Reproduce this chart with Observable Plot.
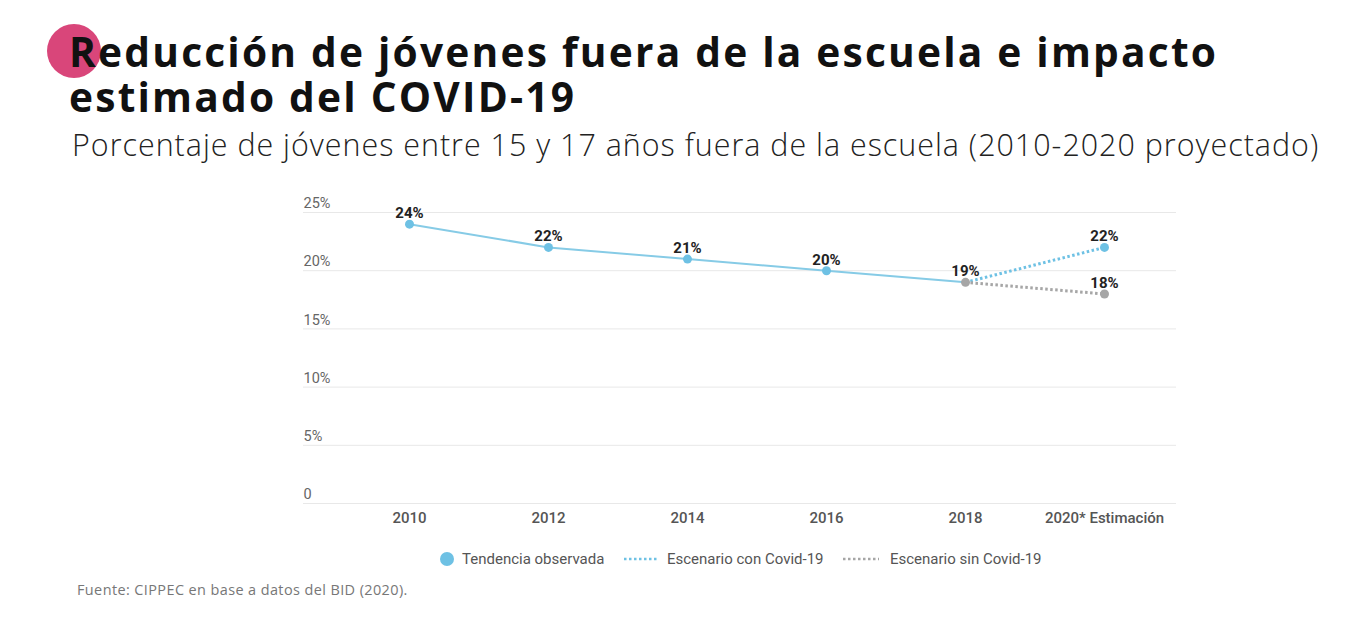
<!DOCTYPE html>
<html><head><meta charset="utf-8">
<script src="https://cdn.jsdelivr.net/npm/d3@7"></script>
<script src="https://cdn.jsdelivr.net/npm/@observablehq/plot@0.6"></script>
<style>
body{margin:0;background:#fff;width:1362px;height:638px;position:relative;overflow:hidden;font-family:Roboto,sans-serif}
#dot{position:absolute;left:47px;top:24px;width:54px;height:54px;border-radius:50%;background:#d9467a}
.fit{position:absolute;white-space:nowrap;margin:0;display:inline-block;line-height:1}
#title{position:absolute;left:69px;margin:0;font-family:"Open Sans",sans-serif;font-weight:700;color:#111;line-height:45px;white-space:nowrap}
#sub{left:72px;font-family:"Open Sans",sans-serif;font-weight:300;font-size:26px;color:#222}
#chart{position:absolute;left:0;top:190px}
#legend{position:absolute;top:550px;left:0;width:1362px;font-size:15px;color:#555;font-family:Roboto,sans-serif}
.it{position:absolute;display:flex;align-items:center;height:18px}
#cap{left:77px;font-family:"Open Sans",sans-serif;font-size:12px;color:#777}
</style></head>
<body>
<div id="dot"></div>
<h1 id="title">Reducción de jóvenes fuera de la escuela e impacto<br>estimado del COVID-19</h1>
<div id="sub" class="fit">Porcentaje de jóvenes entre 15 y 17 años fuera de la escuela (2010-2020 proyectado)</div>
<div id="chart"></div>
<div id="legend">
  <div class="it" style="left:439px"><svg width="16" height="16"><circle cx="8" cy="8" r="7" fill="#6ec1e4"/></svg><span style="margin-left:7px">Tendencia observada</span></div>
  <div class="it" style="left:623px"><svg width="36" height="6"><line x1="1" x2="35" y1="3" y2="3" stroke="#6ec1e4" stroke-width="2.5" stroke-dasharray="2.5,2.5"/></svg><span style="margin-left:8px">Escenario con Covid-19</span></div>
  <div class="it" style="left:842px"><svg width="38" height="6"><line x1="1" x2="37" y1="3" y2="3" stroke="#a6a6a6" stroke-width="2.5" stroke-dasharray="2.5,2.5"/></svg><span style="margin-left:10px">Escenario sin Covid-19</span></div>
</div>
<div id="cap" class="fit">Fuente: CIPPEC en base a datos del BID (2020).</div>
<script>
const years = ["2010","2012","2014","2016","2018","2020* Estimación"];
const observed = [24,22,21,20,19];
const conCovid = [19,22];
const sinCovid = [19,18];
const yTicks = [0,5,10,15,20,25];

// size a text so it spans the reference width
function fitFont(measure, sizeEl, n, target, ls){
  sizeEl.style.letterSpacing = ls + "px";
  let f = 40;
  sizeEl.style.fontSize = f + "px";
  for (let k = 0; k < 3; k++) {
    const w = measure();
    f = f * (target - n * ls) / (w - n * ls);
    sizeEl.style.fontSize = f + "px";
  }
  return f;
}
const title = document.getElementById("title");
const line1 = title.firstChild;
const f1 = fitFont(() => { const r = document.createRange(); r.selectNodeContents(line1); return r.getBoundingClientRect().width; }, title, line1.textContent.length, 1149, 2.2);
title.style.top = (67 - ((45 - 1.362 * f1) / 2 + 1.069 * f1)) + "px";

const sub = document.getElementById("sub");
const fs = fitFont(() => sub.getBoundingClientRect().width, sub, sub.textContent.length, 1247, 1.0);
sub.style.top = (156 - 0.888 * fs) + "px";
const cap = document.getElementById("cap");
const fc = fitFont(() => cap.getBoundingClientRect().width, cap, cap.textContent.length, 331, 0.4);
cap.style.top = (596 - 0.888 * fc) + "px";

const obs = observed.map((v,i)=>({x:years[i], y:v}));
const con = conCovid.map((v,i)=>({x:years[4+i], y:v}));
const sin = sinCovid.map((v,i)=>({x:years[4+i], y:v}));
const blue = "#6ec1e4", lineBlue = "#86cbe6", gray = "#a6a6a6";

const chart = Plot.plot({
  width: 1362, height: 350,
  marginLeft: 303, marginRight: 186, marginTop: 22, marginBottom: 37,
  style: {fontFamily: "Roboto, sans-serif", fontSize: "15px", background: "transparent"},
  x: {type: "point", domain: years, range: [407, 1106], padding: 0},
  y: {domain: [0, 25], range: [313, 22], axis: null},
  marks: [
    Plot.ruleY(yTicks, {stroke: "#e8e8e8", strokeWidth: 1}),
    Plot.text(yTicks, {y: d => d, frameAnchor: "left", text: d => d === 0 ? "0" : d + "%", textAnchor: "start", dy: -9, fill: "#666", fontSize: 14.5}),
    Plot.axisX({tickSize: 0, tickPadding: 9, fill: "#555", fontSize: 15, fontWeight: 500, label: null}),
    Plot.line(obs, {x: "x", y: "y", stroke: lineBlue, strokeWidth: 2}),
    Plot.line(con, {x: "x", y: "y", stroke: blue, strokeWidth: 3, strokeDasharray: "2.5,2.5", strokeLinecap: "butt"}),
    Plot.line(sin, {x: "x", y: "y", stroke: gray, strokeWidth: 3, strokeDasharray: "2.5,2.5", strokeLinecap: "butt"}),
    Plot.dot(obs.slice(0,4), {x: "x", y: "y", r: 4.5, fill: blue}),
    Plot.dot(con.slice(1), {x: "x", y: "y", r: 4.5, fill: blue}),
    Plot.dot(sin, {x: "x", y: "y", r: 4.5, fill: gray}),
    Plot.text(obs.concat(con.slice(1), sin.slice(1)), {x: "x", y: "y", text: d => d.y + "%", dy: -11, fill: "#222", fontWeight: 700, fontSize: 15})
  ]
});
document.getElementById("chart").appendChild(chart);
</script>
</body></html>
